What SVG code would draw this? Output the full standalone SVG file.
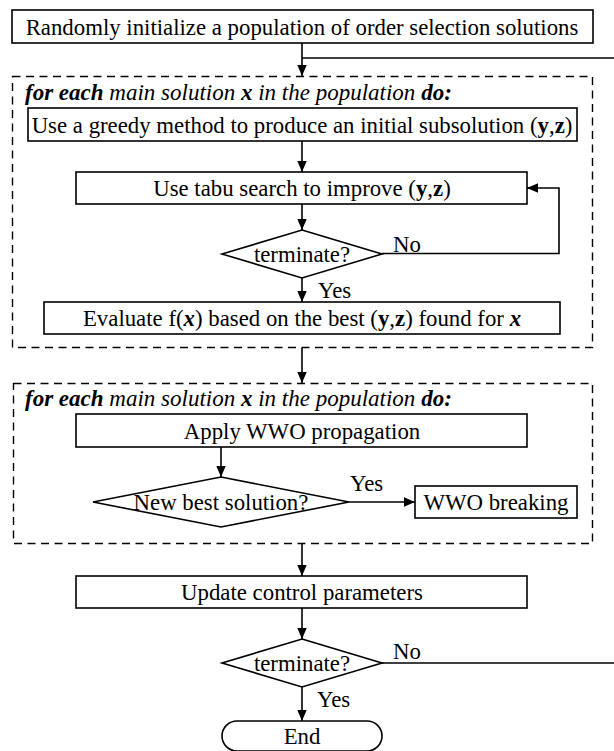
<svg xmlns="http://www.w3.org/2000/svg" width="614" height="751" viewBox="0 0 614 751">
  <defs>
    <marker id="arrow" viewBox="0 0 11 10" refX="11" refY="5" markerWidth="11" markerHeight="10" markerUnits="userSpaceOnUse" orient="auto">
      <path d="M0,0.3 L11,5 L0,9.7 z" fill="#000"/>
    </marker>
    <style>
      .box { fill: #fff; stroke: #000; stroke-width: 1.6; }
      .dash { fill: none; stroke: #000; stroke-width: 1.4; stroke-dasharray: 8 5.5; }
      .line { fill: none; stroke: #000; stroke-width: 1.6; }
      .arr { fill: none; stroke: #000; stroke-width: 1.6; marker-end: url(#arrow); }
      text { font-family: "Liberation Serif", "Times New Roman", "DejaVu Serif", serif; font-size: 22.8px; fill: #000; }
      .hdr { font-size: 23px; }
      .c { text-anchor: middle; }
      .it { font-style: italic; }
      .bi { font-style: italic; font-weight: bold; }
      .b { font-weight: bold; }
    </style>
  </defs>

  <!-- loop containers -->
  <g id="loop-evaluate">
    <rect class="dash" x="12.5" y="76.5" width="580" height="271"/>
    <text class="hdr" x="25" y="100"><tspan class="bi">for each</tspan><tspan class="it"> main solution </tspan><tspan class="bi">x</tspan><tspan class="it"> in the population </tspan><tspan class="bi">do:</tspan></text>
  </g>
  <g id="loop-propagate">
    <rect class="dash" x="13.5" y="383.5" width="579" height="160"/>
    <text class="hdr" x="25" y="406"><tspan class="bi">for each</tspan><tspan class="it"> main solution </tspan><tspan class="bi">x</tspan><tspan class="it"> in the population </tspan><tspan class="bi">do:</tspan></text>
  </g>

  <!-- connectors -->
  <g id="connectors">
    <path class="arr" d="M302,43 V76"/>
    <path class="line" d="M614,58 H302"/>
    <path class="arr" d="M302,141 V172"/>
    <path class="arr" d="M302,204 V230"/>
    <path class="arr" d="M382,253.5 H559 V188 H527"/>
    <path class="arr" d="M302,278 V302"/>
    <path class="arr" d="M302,348 V383"/>
    <path class="arr" d="M221,447 V477"/>
    <path class="arr" d="M349,502 H415"/>
    <path class="arr" d="M302,543 V576"/>
    <path class="arr" d="M302,608 V639"/>
    <path class="line" d="M382,663 H614"/>
    <path class="arr" d="M302,687 V721"/>
    <text x="393" y="252">No</text>
    <text x="318" y="298">Yes</text>
    <text x="350" y="491">Yes</text>
    <text x="393" y="659">No</text>
    <text x="317" y="707">Yes</text>
  </g>

  <!-- nodes -->
  <g id="init">
    <rect class="box" x="12" y="10" width="581" height="33"/>
    <text class="c" x="302" y="35">Randomly initialize a population of order selection solutions</text>
  </g>
  <g id="greedy">
    <rect class="box" x="28" y="108" width="549" height="33"/>
    <text class="c" x="302" y="133">Use a greedy method to produce an initial subsolution (<tspan class="b">y</tspan>,<tspan class="b">z</tspan>)</text>
  </g>
  <g id="tabu">
    <rect class="box" x="76" y="172" width="451" height="32"/>
    <text class="c" x="302" y="196">Use tabu search to improve (<tspan class="b">y</tspan>,<tspan class="b">z</tspan>)</text>
  </g>
  <g id="terminate-inner">
    <polygon class="box" points="302,230 382,254 302,278 222,254"/>
    <text class="c" x="302" y="262">terminate?</text>
  </g>
  <g id="evaluate">
    <rect class="box" x="44" y="302" width="516" height="32"/>
    <text class="c" x="302" y="326">Evaluate f(<tspan class="bi">x</tspan>) based on the best (<tspan class="b">y</tspan>,<tspan class="b">z</tspan>) found for <tspan class="bi">x</tspan></text>
  </g>
  <g id="propagation">
    <rect class="box" x="76" y="414" width="451" height="33"/>
    <text class="c" x="302" y="439">Apply WWO propagation</text>
  </g>
  <g id="new-best">
    <polygon class="box" points="221,477 349,502 221,527 93,502"/>
    <text class="c" x="221" y="510">New best solution?</text>
  </g>
  <g id="breaking">
    <rect class="box" x="415" y="486" width="162" height="32"/>
    <text class="c" x="496" y="510">WWO breaking</text>
  </g>
  <g id="update">
    <rect class="box" x="76" y="576" width="451" height="32"/>
    <text class="c" x="302" y="600">Update control parameters</text>
  </g>
  <g id="terminate-outer">
    <polygon class="box" points="302,639 382,663 302,687 222,663"/>
    <text class="c" x="302" y="671">terminate?</text>
  </g>
  <g id="end">
    <rect class="box" x="222" y="721" width="160" height="30" rx="15" ry="15"/>
    <text class="c" x="302" y="744">End</text>
  </g>
</svg>
